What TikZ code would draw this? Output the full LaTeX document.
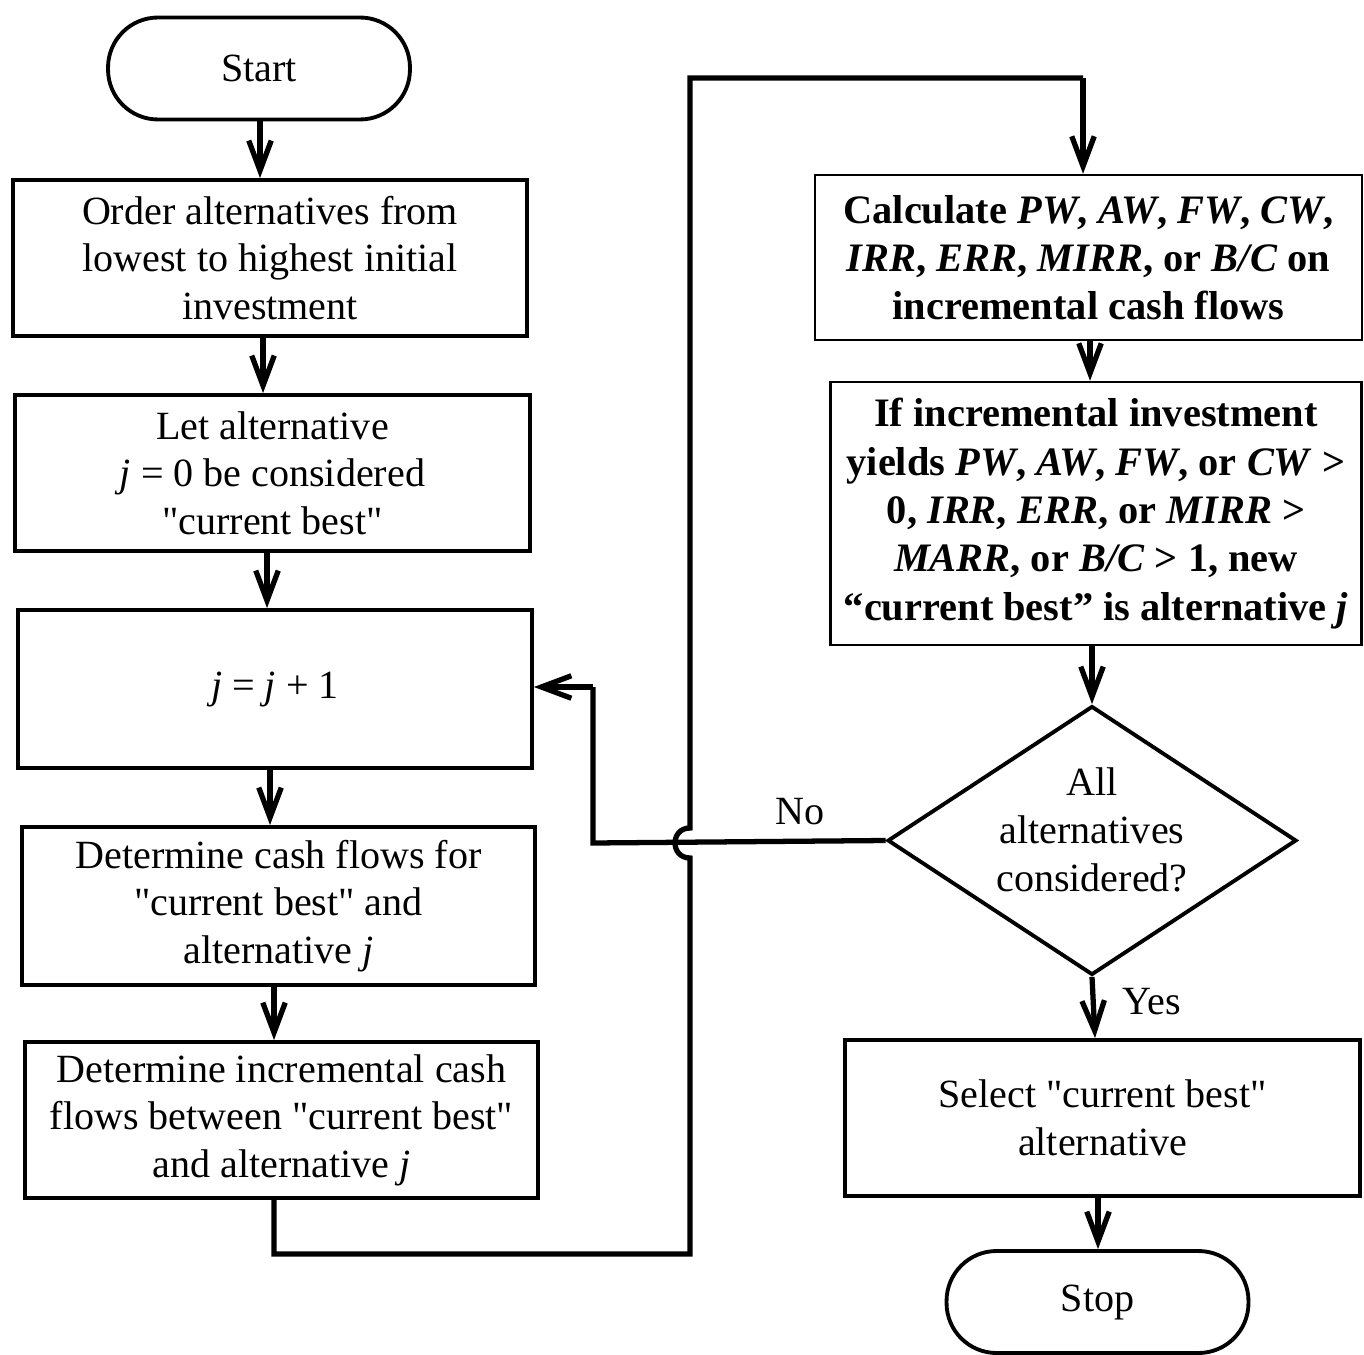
\documentclass[tikz,border=0pt]{standalone}
\usepackage{fontspec}
\setmainfont{Liberation Serif}
\usetikzlibrary{arrows.meta,shapes.geometric}
\newcommand{\dq}{\textquotedbl}
\tikzset{
  lbox/.style={draw, line width=2.2pt, align=center, inner sep=0pt,
    font=\fontsize{22.8}{27}\selectfont},
  rbox/.style={draw, line width=1.4pt, align=center, inner sep=0pt,
    font=\fontsize{23}{27.5}\selectfont\bfseries},
  term/.style={draw, line width=2.2pt, rounded corners=1cm, inner sep=0pt,
    minimum width=6.04cm, minimum height=2.04cm, font=\fontsize{22.8}{27}\selectfont},
  arr/.style={line width=3pt, -{Straight Barb[length=0.6cm,width=0.45cm,line width=3pt]}},
  conn/.style={line width=3pt},
  lbl/.style={inner sep=0pt, font=\fontsize{22.8}{27}\selectfont}
}
\begin{document}
\begin{tikzpicture}[x=0.02cm,y=-0.02cm]
\useasboundingbox (0,0) rectangle (1364,1354);
% left column
\node[term] (start) at (259,68.5) {Start};
\node[lbox, minimum width=10.28cm, minimum height=3.12cm] (b1) at (270,258)
  {Order alternatives from\\lowest to highest initial\\investment};
\node[lbox, minimum width=10.3cm, minimum height=3.12cm] (b2) at (272.5,473)
  {Let alternative\\\textit{j} = 0 be considered\\\dq current best\dq};
\node[lbox, minimum width=10.28cm, minimum height=3.16cm] (b3) at (275,689)
  {\textit{j} = \textit{j} + 1};
\node[lbox, minimum width=10.26cm, minimum height=3.16cm] (b4) at (278.5,906)
  {Determine cash flows for\\\dq current best\dq{} and\\alternative \textit{j}};
\node[lbox, minimum width=10.26cm, minimum height=3.12cm] (b5) at (281.5,1120)
  {Determine incremental cash\\flows between \dq current best\dq\\and alternative \textit{j}};
% right column
\node[rbox, minimum width=10.94cm, minimum height=3.3cm] (bA) at (1088.5,257.5)
  {Calculate \textit{PW}, \textit{AW}, \textit{FW}, \textit{CW},\\
   \textit{IRR}, \textit{ERR}, \textit{MIRR}, or \textit{B/C} on\\
   incremental cash flows};
\node[rbox, minimum width=10.62cm, minimum height=5.26cm] (bB) at (1096,513.5)
  {If incremental investment\\
   yields \textit{PW}, \textit{AW}, \textit{FW}, or \textit{CW} >\\
   0, \textit{IRR}, \textit{ERR}, or \textit{MIRR} >\\
   \textit{MARR}, or \textit{B/C} > 1, new\\
   “current best” is alternative \textit{j}};
\node[draw, diamond, line width=2.2pt, inner sep=0pt, shape aspect=1.52,
  minimum width=8.18cm, minimum height=5.38cm] (dia) at (1092,840.5) {};
\node[lbl, align=center, font=\fontsize{22.8}{27.2}\selectfont] (diatext) at (1092,830)
  {All\\alternatives\\considered?};
\node[lbox, minimum width=10.3cm, minimum height=3.12cm] (sel) at (1102.5,1118)
  {Select \dq current best\dq\\alternative};
\node[term] (stop) at (1097.5,1302) {Stop};
% labels
\node[lbl] (lno) at (800,812) {No};
\node[lbl] (lyes) at (1152,1002) {Yes};
% connectors left
\draw[arr] (start.south -| 260,0) -- (b1.north -| 260,0);
\draw[arr] (b1.south -| 263,0) -- (b2.north -| 263,0);
\draw[arr] (b2.south -| 267,0) -- (b3.north -| 267,0);
\draw[arr] (b3.south -| 270,0) -- (b4.north -| 270,0);
\draw[arr] (b4.south -| 274,0) -- (b5.north -| 274,0);
% big loop with hop
\coordinate (c1) at (274,1254);
\coordinate (c2) at (690,1254);
\coordinate (hopb) at (690,858);
\coordinate (hopt) at (690,828);
\coordinate (c3) at (690,78);
\coordinate (c4) at (1083,78);
\draw[conn, line join=miter] (b5.south -| 274,0) -- (c1) -- (c2) -- (hopb)
  .. controls (670,858) and (670,828) .. (hopt) -- (c3) -- (c4);
\draw[arr] (c4) -- (bA.north -| 1083,0);
% right connectors
\draw[arr] (bA.south -| 1090,0) -- (bB.north -| 1090,0);
\draw[arr] (bB.south -| 1092,0) -- (dia.north);
\draw[arr] (dia.south) -- (sel.north -| 1095,0);
\draw[arr] (sel.south -| 1098,0) -- (stop.north -| 1098,0);
% No branch
\coordinate (n1) at (593,843);
\coordinate (n2) at (593,687);
\draw[conn] (dia.west) -- (n1) -- (n2);
\draw[arr] (n2) -- (b3.east |- n2);
\end{tikzpicture}
\end{document}
